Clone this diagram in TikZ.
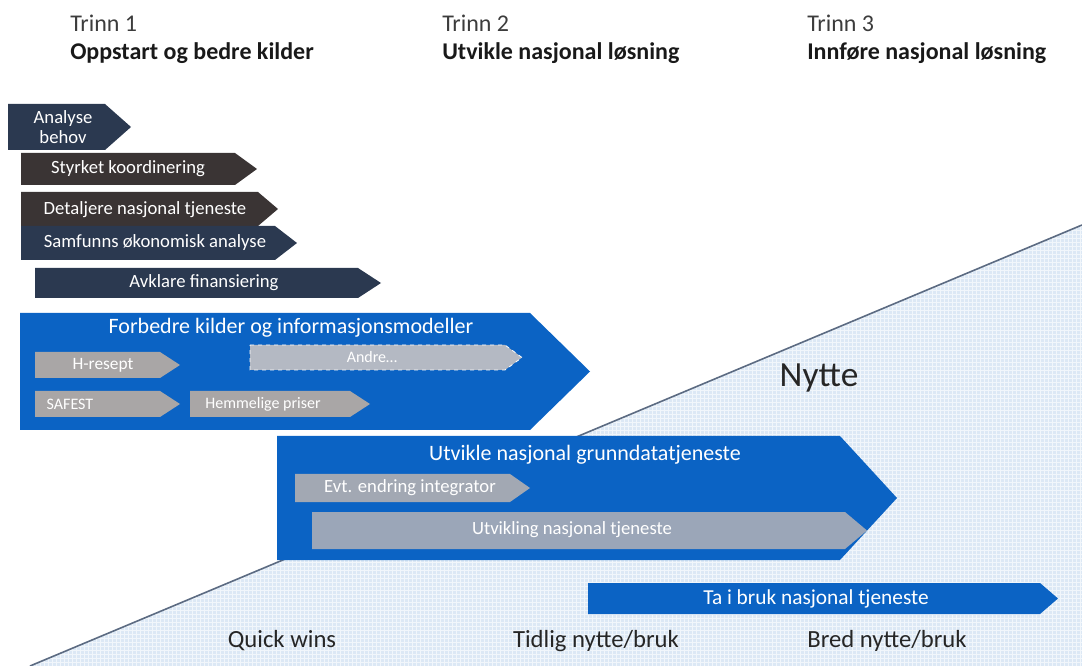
\documentclass[tikz,border=0pt]{standalone}
\usepackage{fontspec}
\setmainfont{Carlito}
\usetikzlibrary{patterns}
\definecolor{navy}{HTML}{2B3950}
\definecolor{dbrown}{HTML}{3A3434}
\definecolor{mblue}{HTML}{0B63C4}
\definecolor{wgray}{HTML}{A9A6A6}
\definecolor{bgray}{HTML}{B4B9C3}
\definecolor{egray}{HTML}{A2A8B3}
\definecolor{ugray}{HTML}{9BA6B8}
\definecolor{tri}{HTML}{DCE8F5}
\definecolor{triline}{HTML}{5C6B82}
\definecolor{edge}{HTML}{9DB6D6}
\definecolor{htext}{HTML}{3C3C3C}
\newcommand\chevpath[6]{\fill[#6] (#1,#4) -- (#2,#4) -- (#3,{(#4+#5)/2}) -- (#2,#5) -- (#1,#5) -- cycle;}
\begin{document}
\begin{tikzpicture}[x=0.75pt,y=-0.75pt,
  head/.style={font=\fontsize{18}{21}\selectfont, anchor=west, text=htext, inner sep=0pt},
  headb/.style={font=\fontsize{18}{21}\selectfont\bfseries, anchor=west, text=black!90, inner sep=0pt},
  small/.style={font=\fontsize{14}{15}\selectfont, text=white, align=center, inner sep=0pt},
  gsmall/.style={font=\fontsize{12}{14}\selectfont, text=white, inner sep=0pt},
  big/.style={font=\fontsize{16.5}{19}\selectfont, text=white, inner sep=0pt},
  bottom/.style={font=\fontsize{18.5}{21}\selectfont, text=black!85, inner sep=0pt}]
\useasboundingbox (0,0) rectangle (1082,666);
% benefit triangle
\fill[tri] (30,666) -- (1082,225) -- (1082,666) -- cycle;
\fill[pattern=grid, pattern color=white!60!tri] (30,666) -- (1082,225) -- (1082,666) -- cycle;
\draw[triline, line width=1.2pt] (30,666) -- (1082,225);
% headers
\node[head] (t1) at (70,23) {Trinn 1};
\node[headb] (t1b) at (70,53) {Oppstart og bedre kilder};
\node[head] (t2) at (442,23) {Trinn 2};
\node[headb] (t2b) at (442,53) {Utvikle nasjonal løsning};
\node[head] (t3) at (807,23) {Trinn 3};
\node[headb] (t3b) at (807,53) {Innføre nasjonal løsning};
% dark step chevrons
\chevpath{8}{105}{131}{104}{150}{navy}
\node[small] (a1) at (63,127) {Analyse\\behov};
\chevpath{21}{235}{257}{153}{185}{dbrown}
\node[small] (a2) at (128,169) {Styrket koordinering};
\chevpath{21}{258}{278}{192}{226}{dbrown}
\node[small] (a3) at (145,210) {Detaljere nasjonal tjeneste};
\chevpath{21}{275}{297}{226}{260}{navy}
\node[small] (a4) at (155,243) {Samfunns økonomisk analyse};
\chevpath{35}{358}{381}{268}{298}{navy}
\node[small] (a5) at (204,283) {Avklare finansiering};
% big blue 1
\chevpath{20}{530}{590}{313}{430}{mblue}
\node[big] (b1) at (291,328) {Forbedre kilder og informasjonsmodeller};
\chevpath{35}{160}{180}{352}{378}{wgray}
\node[gsmall, font=\fontsize{13}{15}\selectfont] (c1) at (103,365) {H-resept};
\chevpath{250}{505}{522}{345}{370}{bgray}
\draw[white, dashed, line width=0.6pt] (250,345) -- (505,345) -- (522,357.5) -- (505,370) -- (250,370) -- cycle;
\node[gsmall] (c2) at (372,357) {Andre…};
\chevpath{35}{160}{180}{391}{417}{wgray}
\node[gsmall] (c3) at (70,404) {SAFEST};
\chevpath{190}{350}{370}{391}{417}{wgray}
\node[gsmall] (c4) at (263,404) {Hemmelige priser};
% big blue 2
\chevpath{277}{840}{897}{436}{560}{mblue}
\node[big] (b2) at (585,455) {Utvikle nasjonal grunndatatjeneste};
\chevpath{295}{510}{530}{474}{502}{egray}
\node[small] (d1) at (410,488) {Evt. endring integrator};
\chevpath{312}{845}{867}{512}{549}{ugray}
\node[small] (d2) at (572,530) {Utvikling nasjonal tjeneste};
% deployment
\chevpath{588}{1040}{1058}{583}{614}{mblue}
\node[small, font=\fontsize{16}{18}\selectfont] (e1) at (816,599) {Ta i bruk nasjonal tjeneste};
% labels
\node[font=\fontsize{26.5}{30}\selectfont, text=black!85, inner sep=0pt] (ny) at (819,378) {Nytte};
\node[bottom] (q1) at (282,641) {Quick wins};
\node[bottom] (q2) at (596,641) {Tidlig nytte/bruk};
\node[bottom] (q3) at (887,641) {Bred nytte/bruk};
\end{tikzpicture}
\end{document}
